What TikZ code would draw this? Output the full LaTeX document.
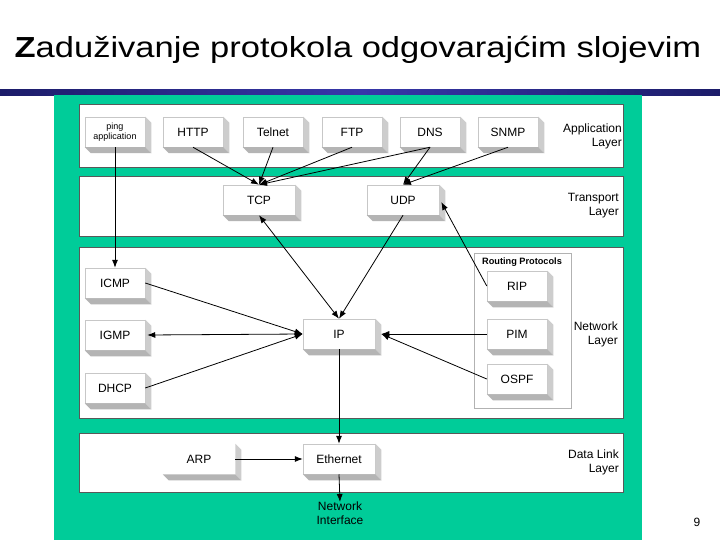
\documentclass[tikz,border=0pt]{standalone}
\usepackage{fontspec}
\setmainfont{Liberation Sans}
\usetikzlibrary{arrows.meta}
\definecolor{panelgreen}{RGB}{0,204,153}
\definecolor{navyA}{RGB}{28,28,105}
\definecolor{navyB}{RGB}{55,55,170}
\definecolor{sideR}{RGB}{205,205,205}
\definecolor{sideB}{RGB}{180,180,180}
\newcommand{\extrude}[1]{%
  \fill[sideR] (#1.north east) -- ++(6,6) -- ([shift={(6,6)}]#1.south east) -- (#1.south east) -- cycle;
  \fill[sideB] (#1.south west) -- (#1.south east) -- ++(6,6) -- ([shift={(6,6)}]#1.south west) -- cycle;}
\begin{document}
\begin{tikzpicture}[x=1pt,y=-1pt,
  layerbox/.style={draw=black!65, line width=0.7pt, fill=white},
  protobox/.style={draw=black!22, line width=0.5pt, fill=white, minimum width=60pt, minimum height=30pt, inner sep=0pt, font=\fontsize{12}{14}\selectfont},
  widebox/.style={minimum width=72pt},
  layerlabel/.style={align=right, anchor=east, inner sep=0pt, font=\fontsize{12}{14}\selectfont},
  conn/.style={line width=0.8pt, -{Latex[length=8pt,width=6pt]}},
  bconn/.style={line width=0.8pt, {Latex[length=8pt,width=6pt]}-{Latex[length=8pt,width=6pt]}},
]
\useasboundingbox (0,0) rectangle (720,540);
\fill[white] (0,0) rectangle (720,540);
% title
\node[font=\fontsize{29}{33}\selectfont, inner sep=0pt, anchor=base] (title) at (358,57.3) {\scalebox{1.19}[1]{{\bfseries Z}aduživanje protokola odgovarajćim slojevim}};
\shade[left color=navyA, right color=navyA, middle color=navyB] (0,90) rectangle (720,95.5);
% green panel
\fill[panelgreen] (54,95.5) rectangle (642,540);
% layers
\draw[layerbox] (79,104) rectangle (623,167);
\draw[layerbox] (79,176) rectangle (623,236);
\draw[layerbox] (79,247) rectangle (623,418);
\draw[layerbox] (79,433) rectangle (623,492);
\draw[draw=black!30, line width=0.5pt, fill=white] (474,253) rectangle (571,408);
\node[font=\bfseries\fontsize{9.2}{11}\selectfont, inner sep=0pt] (rplabel) at (522,262) {Routing Protocols};
% layer labels
\node[layerlabel] (lapp) at (622,136) {Application\\Layer};
\node[layerlabel] (ltr) at (619,206) {Transport\\Layer};
\node[layerlabel] (lnet) at (618,334.5) {Network\\Layer};
\node[layerlabel] (ldl) at (619,462.5) {Data Link\\Layer};
% protocol boxes
\node[protobox, font=\fontsize{9}{10.5}\selectfont, align=center] (ping) at (115,132) {ping\\application};
\node[protobox] (http) at (193,132) {HTTP};
\node[protobox] (telnet) at (273,132) {Telnet};
\node[protobox] (ftp) at (352,132) {FTP};
\node[protobox] (dns) at (430,132) {DNS};
\node[protobox] (snmp) at (508,132) {SNMP};
\node[protobox, widebox] (tcp) at (259,200) {TCP};
\node[protobox, widebox] (udp) at (403,200) {UDP};
\node[protobox] (icmp) at (115,283) {ICMP};
\node[protobox] (igmp) at (115,335) {IGMP};
\node[protobox] (dhcp) at (115,388) {DHCP};
\node[protobox, widebox] (ip) at (339,334) {IP};
\node[protobox] (rip) at (517,286) {RIP};
\node[protobox] (pim) at (517,334) {PIM};
\node[protobox] (ospf) at (517,379) {OSPF};
\node[protobox, widebox, draw=white] (arp) at (199,459) {ARP};
\node[protobox, widebox] (eth) at (339,459) {Ethernet};
\foreach \n in {ping,http,telnet,ftp,dns,snmp,tcp,udp,icmp,igmp,dhcp,ip,rip,pim,ospf,arp,eth} {\extrude{\n}}
% free labels
\node[align=center, inner sep=0pt, font=\fontsize{12}{14}\selectfont, anchor=north] (ni) at (340,502) {Network\\Interface};
\node[inner sep=0pt, font=\fontsize{12}{14}\selectfont] (pnum) at (697,522) {9};
% connectors
\draw[conn] (ping.south) -- (icmp.north);
\draw[conn] (http.south) -- (tcp.north);
\draw[conn] (telnet.south) -- (tcp.north);
\draw[conn] (ftp.south) -- (tcp.north);
\draw[conn] (dns.south) -- (tcp.north);
\draw[conn] (dns.south) -- (udp.north);
\draw[conn] (snmp.south) -- (udp.north);
\draw[bconn] (tcp.south) -- (ip.north);
\draw[conn] (udp.south) -- (ip.north);
\draw[conn] (rip.west) -- ([shift={(2,2)}]udp.east);
\draw[conn] (icmp.east) -- (ip.west);
\draw[bconn] ([xshift=2]igmp.east) -- (ip.west);
\draw[conn] (dhcp.east) -- (ip.west);
\draw[conn] (pim.west) -- ([xshift=6]ip.east);
\draw[conn] (ospf.west) -- ([xshift=6]ip.east);
\draw[conn] (ip.south) -- (eth.north);
\draw[conn] (arp.east) -- (eth.west);
\draw[conn] (eth.south) -- (ni.north);
\end{tikzpicture}
\end{document}
